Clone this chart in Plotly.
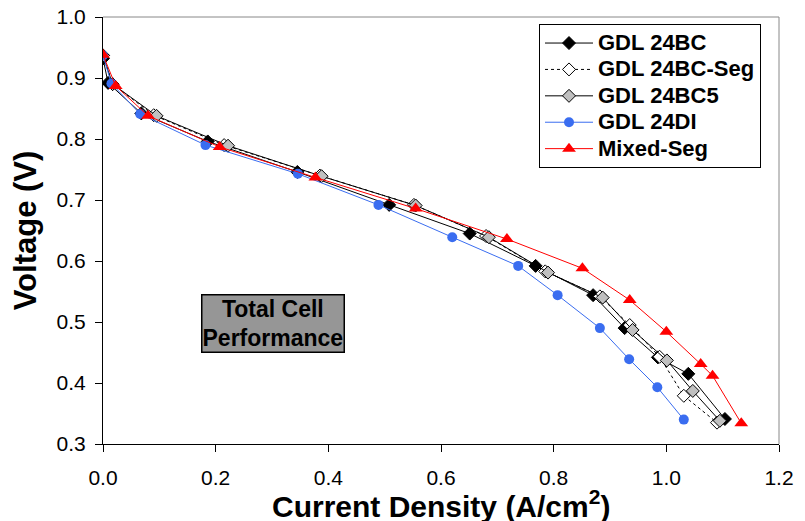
import plotly.graph_objects as go

# ---- data ----
series_names = ["GDL 24BC", "GDL 24BC-Seg", "GDL 24BC5", "GDL 24DI", "Mixed-Seg"]

bc_x = [0.0, 0.009, 0.068, 0.186, 0.345, 0.508, 0.651, 0.768, 0.870, 0.926, 0.985, 1.039, 1.104]
bc_v = [0.932, 0.892, 0.842, 0.796, 0.746, 0.692, 0.645, 0.592, 0.544, 0.490, 0.442, 0.415, 0.341]

bcseg_x = [0.0, 0.017, 0.090, 0.215, 0.385, 0.552, 0.680, 0.785, 0.882, 0.935, 0.988, 1.031, 1.090]
bcseg_v = [0.937, 0.890, 0.839, 0.790, 0.740, 0.692, 0.641, 0.583, 0.542, 0.495, 0.443, 0.379, 0.335]

bc5_x = [0.0, 0.017, 0.095, 0.222, 0.388, 0.555, 0.685, 0.790, 0.887, 0.940, 1.001, 1.047, 1.095]
bc5_v = [0.937, 0.890, 0.838, 0.789, 0.739, 0.691, 0.639, 0.581, 0.540, 0.487, 0.437, 0.387, 0.338]

di_x = [0.0, 0.015, 0.066, 0.182, 0.346, 0.489, 0.620, 0.737, 0.807, 0.882, 0.934, 0.984, 1.031]
di_v = [0.937, 0.891, 0.841, 0.790, 0.743, 0.692, 0.639, 0.592, 0.544, 0.490, 0.439, 0.393, 0.340]

mix_x = [0.0, 0.0225, 0.080, 0.207, 0.377, 0.555, 0.717, 0.851, 0.935, 1.000, 1.061, 1.082, 1.133]
mix_v = [0.938, 0.887, 0.838, 0.787, 0.737, 0.686, 0.636, 0.588, 0.536, 0.484, 0.431, 0.412, 0.334]

x_ticks = [0.0, 0.2, 0.4, 0.6, 0.8, 1.0, 1.2]
y_ticks = [0.3, 0.4, 0.5, 0.6, 0.7, 0.8, 0.9, 1.0]

x_title = "Current Density (A/cm<sup>2</sup>)"
y_title = "Voltage (V)"
box_text = "Total Cell<br>Performance"

FONT = "Liberation Sans, Arial, sans-serif"
BLUE = "#3a6df0"


def lname(s):
    return f"<span style='font-size:22px'>{s}</span>"


fig = go.Figure()
fig.add_trace(go.Scatter(x=bc_x, y=bc_v, name=lname(series_names[0]), mode="lines+markers",
                         line=dict(color="black", width=1),
                         marker=dict(symbol="diamond", size=10, color="black",
                                     line=dict(color="black", width=1))))
fig.add_trace(go.Scatter(x=bcseg_x, y=bcseg_v, name=lname(series_names[1]), mode="lines+markers",
                         line=dict(color="black", width=1, dash="dot"),
                         marker=dict(symbol="diamond", size=10, color="white",
                                     line=dict(color="black", width=1))))
fig.add_trace(go.Scatter(x=bc5_x, y=bc5_v, name=lname(series_names[2]), mode="lines+markers",
                         line=dict(color="black", width=1),
                         marker=dict(symbol="diamond", size=10, color="#c0c0c0",
                                     line=dict(color="black", width=1))))
fig.add_trace(go.Scatter(x=di_x, y=di_v, name=lname(series_names[3]), mode="lines+markers",
                         line=dict(color=BLUE, width=1),
                         marker=dict(symbol="circle", size=10, color=BLUE,
                                     line=dict(color=BLUE, width=0))))
fig.add_trace(go.Scatter(x=mix_x, y=mix_v, name=lname(series_names[4]), mode="lines+markers",
                         line=dict(color="#ff0000", width=1),
                         marker=dict(symbol="triangle-up", size=12, color="#ff0000",
                                     line=dict(color="#ff0000", width=0))))

fig.add_annotation(x=0.301, y=0.4975, xref="x", yref="y",
                   text=f"<b>{box_text}</b>", showarrow=False,
                   font=dict(family=FONT, size=23, color="black"),
                   bgcolor="#969696", bordercolor="black", borderwidth=1.5,
                   borderpad=0, align="center")

# x-axis title placed as text below the tick labels
fig.add_annotation(x=0.5, y=0, xref="paper", yref="paper", xanchor="center", yanchor="top",
                   yshift=-39, text=f"<b>{x_title}</b>", showarrow=False,
                   font=dict(family=FONT, size=30, color="black"))

# gray frame on top and right
fig.add_shape(type="line", xref="paper", yref="paper", x0=0, x1=1, y0=1, y1=1,
              line=dict(color="#888888", width=1))
fig.add_shape(type="line", xref="paper", yref="paper", x0=1, x1=1, y0=0, y1=1,
              line=dict(color="#888888", width=1))

# page body has an 8px margin: offset the figure so the plot area lands where it should
fig.update_layout(
    width=797, height=513,
    margin=dict(l=95, r=26, t=9, b=77),
    paper_bgcolor="white", plot_bgcolor="white",
    font=dict(family=FONT, color="black"),
    legend=dict(x=(539 - 103) / 676, y=0.984, xanchor="left", yanchor="top",
                bgcolor="white", bordercolor="black", borderwidth=1,
                font=dict(family=FONT, size=18, color="black", weight="bold"),
                tracegroupgap=0, itemwidth=48),
    showlegend=True,
)
fig.update_xaxes(range=[0, 1.2], tickvals=x_ticks, ticktext=[f"{v:.1f}" for v in x_ticks],
                 showgrid=False, zeroline=False, showline=True, linecolor="black", linewidth=1,
                 ticks="outside", ticklen=7, tickcolor="black", automargin=False,
                 ticklabeloverflow="allow", ticklabelstandoff=8,
                 tickfont=dict(family=FONT, size=21))
fig.update_yaxes(range=[0.3, 1.0], tickvals=y_ticks, ticktext=[f"{v:.1f}" for v in y_ticks],
                 showgrid=False, zeroline=False, showline=True, linecolor="black", linewidth=1,
                 ticks="outside", ticklen=7, tickcolor="black", automargin=False,
                 ticklabeloverflow="allow", ticklabelstandoff=5,
                 tickfont=dict(family=FONT, size=21),
                 title=dict(text=f"<b>{y_title}</b>", font=dict(family=FONT, size=31)))

fig.write_html("out.html")
